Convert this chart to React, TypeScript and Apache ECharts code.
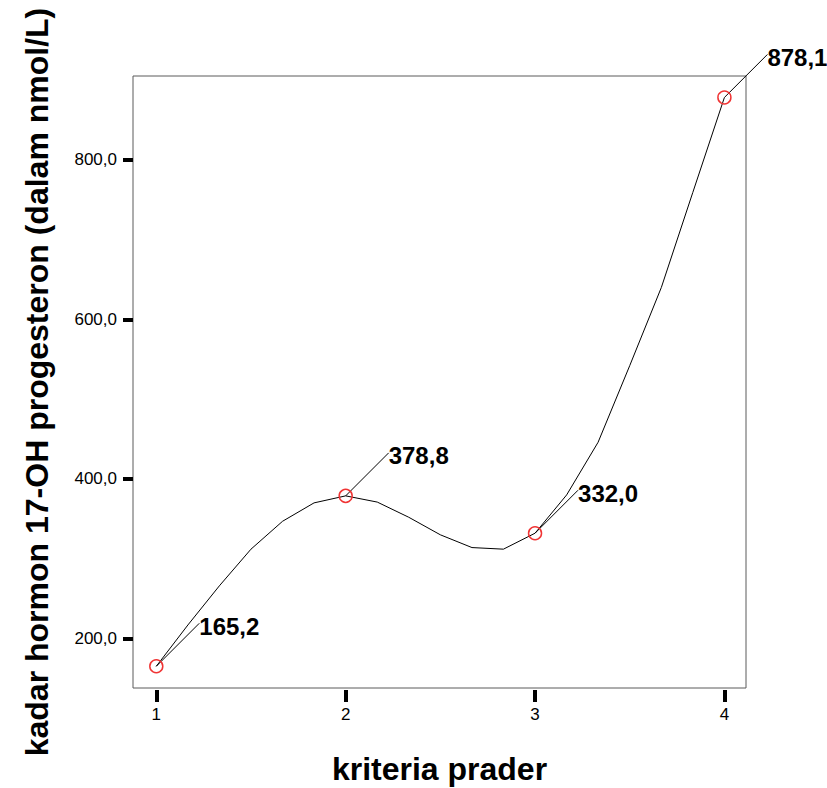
import React, { useEffect, useRef } from "react";
import * as echarts from "echarts";

// Group means (kriteria prader -> kadar hormon 17-OH progesteron)
const praderLevels = [1, 2, 3, 4];
const hormonMeans = [165.2, 378.8, 332.0, 878.1];

// Vertices of the fitted curve
const curveX = [1, 1.167, 1.333, 1.5, 1.667, 1.833, 2, 2.167, 2.333, 2.5, 2.667, 2.833, 3, 3.167, 3.333, 3.5, 3.667, 3.833, 4];
const curveY = [165.2, 217, 266, 312, 347, 370, 378.8, 371, 352, 330, 314, 312, 332.0, 380, 446, 542, 640, 759, 878.1];

// Tick labels
const xTicks = [1, 2, 3, 4];
const yTicks = [200, 400, 600, 800];

const FONT = '"Liberation Sans", Arial, Helvetica, sans-serif';

const fmt = (v: number) => v.toFixed(1).replace(".", ",");

export default function App() {
  const ref = useRef<HTMLDivElement>(null);

  useEffect(() => {
    if (!ref.current) return;
    const chart = echarts.init(ref.current, undefined, { renderer: "svg" });

    const curveData = curveX.map((x, i) => [x, curveY[i]]);
    const pointData = praderLevels.map((x, i) => [x, hormonMeans[i]]);

    chart.setOption({
      animation: false,
      backgroundColor: "#fff",
      textStyle: { fontFamily: FONT },
      grid: {
        left: 133,
        top: 76,
        right: 81,
        bottom: 100,
        containLabel: false,
        outerBoundsMode: "none",
        show: true,
        borderColor: "#5a5a5a",
        borderWidth: 1,
        backgroundColor: "transparent",
      },
      xAxis: {
        type: "value",
        min: 0.877,
        max: 4.114,
        offset: 2,
        axisLine: { show: false },
        splitLine: { show: false },
        axisTick: {
          show: true,
          customValues: xTicks,
          length: 12,
          lineStyle: { color: "#000", width: 4 },
        },
        axisLabel: {
          customValues: xTicks,
          margin: 16,
          fontSize: 17,
          color: "#000",
          fontFamily: FONT,
          formatter: (v: number) => String(v),
        },
        name: "kriteria prader",
        nameLocation: "middle",
        nameGap: 63,
        nameTextStyle: { fontSize: 32, fontWeight: "bold", color: "#000", fontFamily: FONT },
      },
      yAxis: {
        type: "value",
        min: 138,
        max: 905,
        axisLine: { show: false },
        splitLine: { show: false },
        axisTick: {
          show: true,
          customValues: yTicks,
          length: 10,
          lineStyle: { color: "#000", width: 4 },
        },
        axisLabel: {
          customValues: yTicks,
          margin: 16,
          fontSize: 17,
          color: "#000",
          fontFamily: FONT,
          formatter: (v: number) => fmt(v),
        },
        name: "kadar hormon 17-OH progesteron (dalam nmol/L)",
        nameLocation: "middle",
        nameGap: 80,
        nameTextStyle: { fontSize: 32, fontWeight: "bold", color: "#000", fontFamily: FONT },
      },
      series: [
        {
          type: "line",
          data: curveData,
          showSymbol: false,
          symbol: "none",
          smooth: false,
          lineStyle: { color: "#000", width: 1 },
          z: 2,
        },
        {
          type: "custom",
          data: pointData,
          clip: false,
          z: 3,
          renderItem: (params: any, api: any) => {
            const x = api.value(0);
            const y = api.value(1);
            const p = api.coord([x, y]);
            return {
              type: "group",
              children: [
                {
                  type: "line",
                  shape: { x1: p[0], y1: p[1], x2: p[0] + 43, y2: p[1] - 43 },
                  style: { stroke: "#000", lineWidth: 1 },
                },
                {
                  type: "circle",
                  shape: { cx: p[0], cy: p[1], r: 6.5 },
                  style: { fill: "none", stroke: "#f03434", lineWidth: 1.5 },
                },
                {
                  type: "text",
                  x: p[0] + 43,
                  y: p[1] - 40,
                  style: {
                    text: fmt(y),
                    font: `bold 24px ${FONT}`,
                    fill: "#000",
                    align: "left",
                    verticalAlign: "middle",
                  },
                },
              ],
            };
          },
        },
      ],
    });

    return () => chart.dispose();
  }, []);

  return (
    <div
      ref={ref}
      style={{ position: "fixed", left: 0, top: 0, width: 827, height: 788, background: "#fff" }}
    />
  );
}
